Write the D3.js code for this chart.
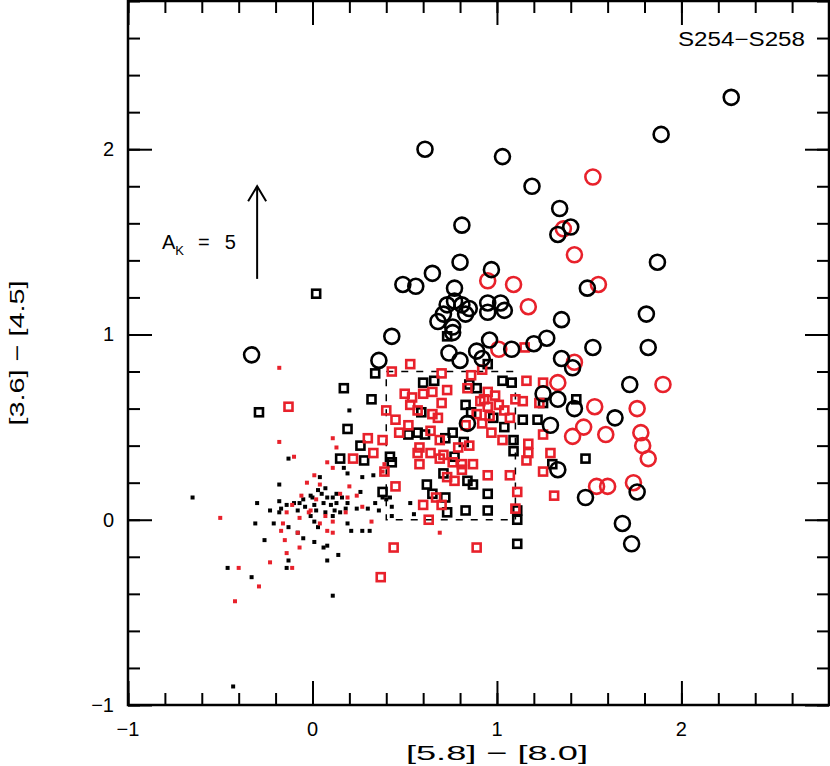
<!DOCTYPE html>
<html>
<head>
<meta charset="utf-8">
<script src="https://cdn.jsdelivr.net/npm/d3@7"></script>
<style>
body{margin:0;background:#fff}
text{font-family:"Liberation Sans",Arial,sans-serif;fill:#000}
</style>
</head>
<body>
<div class="bigvis"></div>
<script>
// [5.8]-[8.0] , [3.6]-[4.5]
var blackCircles = [[-0.33,0.89],[0.61,2.00],[1.03,1.96],[1.19,1.80],[1.34,1.68],[1.33,1.54],[1.40,1.58],[2.27,2.28],[1.89,2.08],[1.87,1.39],[1.81,1.11],[1.82,0.93],[0.81,1.59],[0.80,1.39],[0.65,1.33],[0.49,1.27],[0.56,1.26],[0.97,1.35],[1.49,1.25],[0.77,1.25],[0.73,1.16],[0.77,1.18],[0.81,1.16],[0.85,1.14],[0.71,1.11],[0.68,1.07],[0.76,1.04],[0.83,1.11],[0.95,1.17],[0.95,1.12],[1.02,1.17],[1.04,1.13],[1.35,1.08],[0.43,0.99],[0.36,0.86],[0.80,0.86],[0.89,0.91],[0.96,0.97],[1.08,0.92],[1.20,0.95],[1.27,0.98],[1.35,0.87],[1.41,0.82],[1.25,0.68],[1.33,0.65],[1.29,0.51],[1.33,0.27],[0.84,0.52],[0.76,1.01],[0.92,0.87],[1.52,0.93],[1.72,0.73],[1.42,0.60],[1.64,0.55],[1.76,0.15],[1.48,0.12],[1.68,-0.02],[1.73,-0.13],[0.74,0.90]]
var redCircles = [[1.52,1.85],[1.36,1.57],[1.42,1.43],[1.55,1.27],[0.95,1.29],[1.09,1.27],[1.17,1.15],[1.90,0.73],[1.76,0.60],[1.78,0.47],[1.79,0.40],[1.82,0.33],[1.01,0.92],[1.33,0.74],[1.42,0.85],[1.53,0.61],[1.47,0.50],[1.41,0.45],[1.59,0.46],[1.54,0.18],[1.60,0.18],[1.74,0.20]]
var blackSquares = [[0.02,1.22],[-0.29,0.58],[0.17,0.71],[0.32,0.65],[0.34,0.79],[0.19,0.49],[0.26,0.40],[0.15,0.33],[0.28,0.32],[0.42,0.34],[0.43,0.31],[0.38,0.15],[0.73,0.99],[0.60,0.74],[0.66,0.75],[0.85,0.73],[0.89,0.71],[1.03,0.75],[1.08,0.74],[0.95,0.84],[0.59,0.58],[0.83,0.62],[0.86,0.58],[0.98,0.55],[1.04,0.50],[1.14,0.54],[1.22,0.54],[0.52,0.46],[0.57,0.47],[0.61,0.46],[0.72,0.44],[0.76,0.47],[0.82,0.42],[1.09,0.43],[1.09,0.37],[0.77,0.34],[0.71,0.25],[0.84,0.21],[0.87,0.19],[0.62,0.19],[0.65,0.14],[0.72,0.12],[0.95,0.14],[0.73,0.04],[0.83,0.05],[0.95,0.05],[1.11,0.05],[1.11,0.00],[1.11,-0.13],[1.30,0.30],[1.48,0.33],[1.25,0.63],[1.43,0.65]]
var redSquares = [[-0.13,0.61],[0.30,0.44],[0.33,0.36],[0.22,0.33],[0.38,0.43],[0.39,0.26],[0.45,0.18],[0.44,-0.15],[0.37,-0.31],[0.89,-0.15],[0.43,0.80],[0.53,0.84],[0.40,0.59],[0.70,0.79],[0.54,0.66],[0.60,0.68],[0.65,0.69],[0.70,0.63],[0.73,0.70],[0.86,0.78],[0.92,0.81],[0.84,0.71],[0.95,0.69],[0.91,0.64],[0.95,0.61],[0.89,0.57],[0.92,0.52],[0.97,0.47],[1.03,0.43],[1.10,0.65],[1.14,0.64],[1.04,0.59],[1.16,0.75],[1.25,0.74],[1.23,0.63],[1.25,0.46],[1.17,0.41],[1.17,0.36],[1.29,0.36],[1.25,0.26],[1.31,0.13],[1.11,0.15],[1.07,0.24],[0.52,0.51],[0.47,0.47],[0.53,0.62],[0.57,0.59],[0.65,0.57],[0.68,0.55],[0.64,0.48],[0.69,0.43],[0.58,0.39],[0.64,0.36],[0.57,0.36],[0.58,0.30],[0.69,0.33],[0.76,0.31],[0.81,0.30],[0.73,0.23],[0.77,0.21],[0.81,0.27],[0.87,0.30],[0.60,0.08],[0.63,0.00],[0.67,0.12],[0.70,0.08],[0.95,0.24],[0.83,0.51],[1.15,0.93],[1.10,0.06],[0.99,0.67],[1.01,0.62],[0.96,0.56],[0.93,0.65],[1.07,0.55],[1.16,0.32],[0.50,0.68],[0.45,0.54],[0.79,0.39],[0.85,0.40],[0.71,0.35]]
var blackDots = [[-0.65,0.12],[-0.46,-0.26],[-0.33,-0.31],[-0.43,-0.90],[0.11,-0.41],[-0.31,-0.02],[-0.30,0.09],[-0.26,-0.11],[-0.23,0.05],[-0.21,-0.02],[-0.18,0.04],[-0.18,0.10],[-0.17,0.06],[-0.14,0.08],[-0.13,-0.04],[-0.13,-0.22],[-0.14,-0.26],[-0.13,0.33],[-0.18,0.19],[-0.10,0.09],[-0.08,0.05],[-0.08,-0.07],[-0.07,0.09],[-0.05,0.11],[-0.05,-0.10],[-0.01,0.13],[-0.01,0.02],[0.00,0.12],[0.01,-0.01],[0.01,-0.12],[0.02,0.05],[0.03,-0.04],[0.04,0.23],[0.05,0.14],[0.06,0.09],[0.06,-0.15],[0.08,-0.22],[0.08,0.12],[0.08,-0.14],[0.11,0.12],[0.11,0.02],[0.12,0.05],[0.13,0.09],[0.14,-0.19],[0.15,0.04],[0.17,0.28],[0.19,0.09],[0.19,0.25],[0.19,-0.02],[0.20,0.59],[0.21,-0.06],[0.24,0.06],[0.26,0.15],[0.27,0.23],[0.27,-0.06],[0.30,0.06],[0.31,-0.06],[0.33,0.24],[0.34,0.09],[0.36,0.05],[0.38,0.12],[0.42,0.12],[0.43,0.02],[0.43,0.07],[0.53,0.09],[0.55,0.03],[0.40,0.11],[0.03,0.16],[0.07,0.17],[0.10,0.08],[0.13,0.14],[0.16,0.12],[0.18,0.06],[-0.04,0.07],[0.07,0.04],[0.01,0.08]]
var redDots = [[-0.18,0.82],[-0.18,0.42],[-0.10,0.34],[0.11,0.44],[0.13,0.39],[0.08,0.31],[0.11,0.28],[0.01,0.24],[-0.03,0.20],[0.04,0.19],[0.20,0.18],[0.24,0.13],[0.15,0.14],[0.19,0.12],[-0.01,0.05],[-0.07,0.01],[-0.02,0.04],[0.07,0.02],[0.11,-0.01],[0.08,-0.06],[0.11,-0.07],[0.04,-0.02],[-0.16,-0.02],[-0.17,-0.06],[-0.15,-0.11],[-0.08,-0.07],[-0.07,-0.15],[-0.14,-0.18],[-0.23,-0.23],[-0.11,-0.26],[-0.29,-0.36],[-0.40,-0.26],[-0.50,0.01],[-0.42,-0.44],[-0.11,0.08],[-0.14,0.04],[0.27,0.07],[0.32,-0.01],[0.38,0.26],[0.39,0.30],[0.69,-0.07],[-0.06,0.13],[0.02,0.11],[0.18,0.04]]

var boxX = [0.4, 1.1]
var boxY = [0, 0.8]
var reddening = {x: -0.3, y0: 1.3, y1: 1.8, label: "5"}
var xTicksMajor = [-1, 0, 1, 2]
var yTicksMajor = [-1, 0, 1, 2]

var red = "#e8212b"
var width = 830
var height = 766
var margin = {top: 1, right: 1, left: 128, bottom: 61}

var svg = d3.select(".bigvis").append("svg")
    .attr("width", width)
    .attr("height", height)

var x = d3.scaleLinear().domain([-1, 2.8]).range([margin.left, width - margin.right])
var y = d3.scaleLinear().domain([-1, 2.8]).range([height - margin.bottom, margin.top])

var minor = d3.range(-1, 2.81, 0.2).map(function(v){ return Math.round(v*10)/10 })

// ticks on all four sides, pointing inwards
function ticks(axisFn, scale, vals, size, tr){
  svg.append("g")
    .attr("transform", tr)
    .call(axisFn(scale).tickValues(vals).tickSize(size).tickFormat(""))
    .call(function(g){ g.select(".domain").remove() })
    .selectAll("line").attr("stroke", "#000").attr("stroke-width", 2)
}
var xb = "translate(0," + y(-1) + ")", xt = "translate(0," + y(2.8) + ")"
var yl = "translate(" + x(-1) + ",0)", yr = "translate(" + x(2.8) + ",0)"
ticks(d3.axisBottom, x, minor, -12, xb)
ticks(d3.axisBottom, x, xTicksMajor, -24, xb)
ticks(d3.axisTop, x, minor, -12, xt)
ticks(d3.axisTop, x, xTicksMajor, -24, xt)
ticks(d3.axisLeft, y, minor, -12, yl)
ticks(d3.axisLeft, y, yTicksMajor, -24, yl)
ticks(d3.axisRight, y, minor, -12, yr)
ticks(d3.axisRight, y, yTicksMajor, -24, yr)

svg.append("rect")
    .attr("x", x(-1)).attr("y", y(2.8))
    .attr("width", x(2.8) - x(-1)).attr("height", y(-1) - y(2.8))
    .attr("fill", "none").attr("stroke", "#000").attr("stroke-width", 2.5)

function fmt(v){ return v < 0 ? "\u2212" + Math.abs(v) : "" + v }

svg.selectAll(".xlab").data(xTicksMajor).enter().append("text")
    .attr("x", function(d){ return x(d) })
    .attr("y", y(-1) + 31)
    .attr("text-anchor", "middle")
    .attr("font-size", 20)
    .text(fmt)

svg.selectAll(".ylab").data(yTicksMajor).enter().append("text")
    .attr("x", x(-1) - 14)
    .attr("y", function(d){ return y(d) + 7 })
    .attr("text-anchor", "end")
    .attr("font-size", 20)
    .text(fmt)

svg.append("text")
    .attr("x", x(1)).attr("y", 760)
    .attr("text-anchor", "middle").attr("font-size", 21)
    .attr("textLength", 182).attr("lengthAdjust", "spacingAndGlyphs")
    .text("[5.8] \u2212 [8.0]")

svg.append("text")
    .attr("transform", "translate(24," + y(0.9) + ") rotate(-90)")
    .attr("text-anchor", "middle").attr("font-size", 21)
    .attr("textLength", 145).attr("lengthAdjust", "spacingAndGlyphs")
    .text("[3.6] \u2212 [4.5]")

svg.append("text")
    .attr("x", 805).attr("y", 46)
    .attr("text-anchor", "end").attr("font-size", 20)
    .attr("textLength", 127).attr("lengthAdjust", "spacingAndGlyphs")
    .text("S254\u2212S258")

// dashed selection box
svg.append("rect")
    .attr("x", x(boxX[0])).attr("y", y(boxY[1]))
    .attr("width", x(boxX[1]) - x(boxX[0])).attr("height", y(boxY[0]) - y(boxY[1]))
    .attr("fill", "none").attr("stroke", "#000")
    .attr("stroke-width", 1.5).attr("stroke-dasharray", "7,8")

// reddening vector
svg.append("line")
    .attr("x1", x(reddening.x)).attr("x2", x(reddening.x))
    .attr("y1", y(reddening.y0)).attr("y2", y(reddening.y1))
    .attr("stroke", "#000").attr("stroke-width", 2)
svg.append("path")
    .attr("d", "M" + (x(reddening.x) - 9) + "," + (y(reddening.y1) + 15) + "L" + x(reddening.x) + "," + y(reddening.y1) + "L" + (x(reddening.x) + 9) + "," + (y(reddening.y1) + 15))
    .attr("fill", "none").attr("stroke", "#000").attr("stroke-width", 2)

var ak = svg.append("text").attr("x", 162).attr("y", 249).attr("font-size", 20)
ak.append("tspan").text("A")
ak.append("tspan").attr("font-size", 13).attr("dy", 6).text("K")
ak.append("tspan").attr("dy", -6).attr("dx", 14).text("=")
ak.append("tspan").attr("dx", 15).text(reddening.label)

// points
function dots(data, color){
  svg.append("g").selectAll("rect").data(data).enter().append("rect")
    .attr("x", function(d){ return x(d[0]) - 2 })
    .attr("y", function(d){ return y(d[1]) - 2 })
    .attr("width", 4).attr("height", 4)
    .attr("fill", color)
}
function squares(data, color){
  svg.append("g").selectAll("rect").data(data).enter().append("rect")
    .attr("x", function(d){ return x(d[0]) - 4 })
    .attr("y", function(d){ return y(d[1]) - 4 })
    .attr("width", 8).attr("height", 8)
    .attr("fill", "none").attr("stroke", color).attr("stroke-width", 2.6)
}
function circles(data, color){
  svg.append("g").selectAll("circle").data(data).enter().append("circle")
    .attr("cx", function(d){ return x(d[0]) })
    .attr("cy", function(d){ return y(d[1]) })
    .attr("r", 7.5)
    .attr("fill", "none").attr("stroke", color).attr("stroke-width", 2.6)
}

dots(blackDots, "#000")
dots(redDots, red)
squares(blackSquares, "#000")
squares(redSquares, red)
circles(redCircles, red)
circles(blackCircles, "#000")
</script>
</body>
</html>
